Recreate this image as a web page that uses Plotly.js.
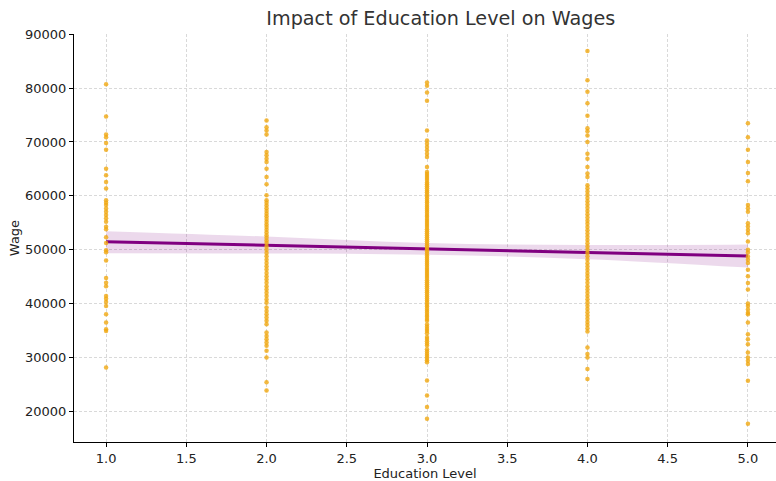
<!DOCTYPE html>
<html>
<head>
<meta charset="utf-8">
<script src="https://cdn.plot.ly/plotly-3.0.1.min.js"></script>
<style>
html,body{margin:0;padding:0;background:#fff;}
#chart{width:776px;height:481px;}
</style>
</head>
<body>
<div id="chart"></div>
<script>
// Wages by education level
var edu1 = [80740, 74710, 71390, 70900, 69800, 68560, 65050, 63820, 62590, 61360,
  59200, 58710, 58280, 57660, 57050, 56430, 55820, 55200, 54280, 53790, 52330,
  51230, 49880, 49550, 48000, 44770, 43850, 43230, 41390, 40900, 40280, 39540,
  38010, 36470, 35240, 34930, 28150];
var edu2 = [73970, 72740, 72130, 71390, 68130, 67520, 66900, 66290, 65050, 63510,
  62160, 60130, 59200, 58700, 58200, 57700, 57200, 56700, 56200, 55700, 55200,
  54700, 54200, 53700, 53200, 52700, 52200, 51700, 51230, 50600, 50000, 49400,
  48770, 48150, 47540, 46920, 46310, 45700, 45080, 44470, 43850, 43240, 42620,
  42000, 41400, 40780, 40170, 39250, 38630, 38020, 37400, 36790, 36170, 34610,
  34000, 33380, 32770, 32150, 31230, 30000, 25390, 23850];
var edu3 = [81050, 80430, 79200, 77660, 72130, 70290, 69680, 69060, 68450, 67830,
  67220, 65370, 64440, 64050, 63700, 63300, 62950, 62500, 62150, 61800, 61400,
  61000, 60650, 60250, 59900, 59500, 59100, 58750, 58350, 58000, 57600, 57250,
  56850, 56450, 56100, 55700, 55350, 54950, 54600, 54200, 53800, 53450, 53050,
  52700, 52300, 51950, 51550, 51150, 50800, 50400, 50050, 49650, 49250, 48900,
  48500, 48150, 47750, 47400, 47000, 46600, 46250, 45850, 45500, 45100, 44750,
  44350, 43950, 43600, 43200, 42850, 42450, 42100, 41700, 41300, 40950, 40550,
  40200, 39800, 39450, 39050, 38650, 38300, 37900, 37550, 37150, 36800, 36100,
  35700, 35300, 34900, 34500, 33800, 33400, 33000, 32600, 32200, 31500, 31100,
  30700, 30300, 29900, 29500, 29100, 25700, 22930, 20780, 18630];
var edu4 = [86890, 81480, 79330, 77170, 74890, 72560, 72000, 71200, 69980, 67820,
  66900, 65370, 64130, 63510, 61970, 61400, 60800, 60200, 59600, 59000, 58400,
  57800, 57200, 56600, 56000, 55400, 54800, 54200, 53600, 53000, 52400, 51800,
  51200, 50600, 50000, 49400, 48770, 48150, 47500, 46900, 46300, 45700, 45100,
  44500, 43850, 43200, 42600, 42000, 41400, 40800, 40200, 39600, 39000, 38400,
  37800, 37200, 36600, 36000, 35400, 34800, 31850, 30620, 30000, 27850, 26000];
var edu5 = [73480, 70900, 68560, 66290, 64260, 62720, 58290, 57680, 57060, 54910,
  54290, 53680, 53060, 51520, 49990, 49500, 48760, 48140, 47530, 46300, 45070,
  43840, 42610, 40030, 39540, 38920, 38310, 38000, 36470, 34310, 33390, 32470,
  30930, 30000, 29390, 28770, 25690, 17700];

// Regression fit and confidence band
var fitX = [1, 2, 3, 4, 5];
var fitY = [51480, 50830, 50150, 49490, 48820];
var bandUpper = [53450, 52450, 51230, 50880, 50980];
var bandLower = [49350, 49300, 49070, 48250, 46680];

var levels = [1, 2, 3, 4, 5];
var groups = [edu1, edu2, edu3, edu4, edu5];
var xs = [], ys = [];
groups.forEach(function (g, i) {
  g.forEach(function (v) { xs.push(levels[i]); ys.push(v); });
});

var traces = [
  {x: fitX, y: bandLower, mode: 'lines', line: {width: 0, shape: 'spline'},
   hoverinfo: 'skip', showlegend: false},
  {x: fitX, y: bandUpper, mode: 'lines', line: {width: 0, shape: 'spline'},
   fill: 'tonexty', fillcolor: 'rgba(128,0,128,0.15)', hoverinfo: 'skip', showlegend: false},
  {x: fitX, y: fitY, mode: 'lines', line: {color: '#800080', width: 3},
   showlegend: false},
  {x: xs, y: ys, mode: 'markers', type: 'scatter',
   marker: {color: 'rgba(240,168,16,0.8)', size: 4.5}, showlegend: false}
];

var font = {family: 'DejaVu Sans, sans-serif', size: 13, color: '#222'};
var layout = {
  width: 776, height: 481,
  margin: {l: 74, r: 0, t: 34, b: 39},
  paper_bgcolor: '#fff', plot_bgcolor: '#fff',
  font: font,
  title: {text: 'Impact of Education Level on Wages', font: {family: 'DejaVu Sans, sans-serif', size: 19.2, color: '#333'},
          x: 0.568, xref: 'container', xanchor: 'center', y: 0.963, yref: 'container', yanchor: 'middle'},
  xaxis: {range: [0.8, 5.175], tickvals: [1, 1.5, 2, 2.5, 3, 3.5, 4, 4.5, 5], tickformat: '.1f',
          showline: true, linecolor: '#000', linewidth: 1, mirror: false,
          ticks: 'outside', ticklen: 4, tickcolor: '#000',
          showgrid: true, gridcolor: '#d0d0d0', griddash: '3px,2px', gridwidth: 0.8, zeroline: false,
          title: {text: 'Education Level', font: font, standoff: 0}},
  yaxis: {range: [14300, 90050], tickvals: [20000, 30000, 40000, 50000, 60000, 70000, 80000, 90000],
          tickformat: 'd',
          showline: true, linecolor: '#000', linewidth: 1, mirror: false,
          ticks: 'outside', ticklen: 4, tickcolor: '#000',
          showgrid: true, gridcolor: '#d0d0d0', griddash: '3px,2px', gridwidth: 0.8, zeroline: false,
          title: {text: 'Wage', font: font, standoff: 2}}
};

Plotly.newPlot('chart', traces, layout, {displayModeBar: false, staticPlot: true});
</script>
</body>
</html>
